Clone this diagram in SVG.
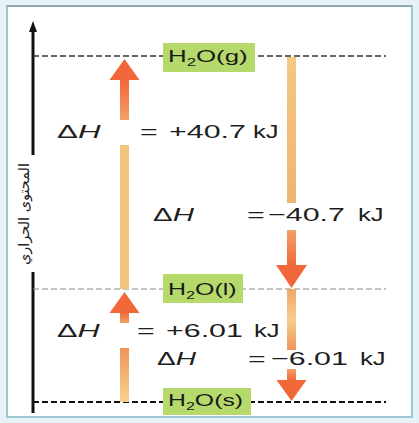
<svg xmlns="http://www.w3.org/2000/svg" width="419" height="423" viewBox="0 0 419 423">
  <style>
    .lbl{font-family:"Liberation Sans","DejaVu Sans",sans-serif;font-size:19px;fill:#1e1e1e}
    .sp{font-family:"Liberation Sans","DejaVu Sans",sans-serif;font-size:17px;fill:#1a1a1a}
    .box{fill:#b6d96c}
    .head{fill:#f2673a}
    .light{fill:#f2c57c}
  </style>
  <defs>
    <linearGradient id="gUp" x1="0" y1="1" x2="0" y2="0">
      <stop offset="0" stop-color="#f6d28e"/>
      <stop offset="1" stop-color="#f09458"/>
    </linearGradient>
    <linearGradient id="gShaftUp" x1="0" y1="0" x2="0" y2="1">
      <stop offset="0" stop-color="#f2673a"/>
      <stop offset="1" stop-color="#f3a064"/>
    </linearGradient>
    <linearGradient id="gShaftDown" x1="0" y1="1" x2="0" y2="0">
      <stop offset="0" stop-color="#f2673a"/>
      <stop offset="1" stop-color="#f3a064"/>
    </linearGradient>
    <linearGradient id="gDownLong" x1="0" y1="0" x2="0" y2="1">
      <stop offset="0" stop-color="#f3c880"/>
      <stop offset="1" stop-color="#f0b470"/>
    </linearGradient>
    <linearGradient id="gDownShort" x1="0" y1="0" x2="0" y2="1">
      <stop offset="0" stop-color="#f0a468"/>
      <stop offset="0.5" stop-color="#f5cf8c"/>
      <stop offset="1" stop-color="#f09458"/>
    </linearGradient>
  </defs>

  <!-- frame -->
  <rect x="0" y="0" width="419" height="423" fill="#e6f2f6"/>
  <rect x="7" y="6" width="405" height="411" fill="#ffffff" stroke="#9fc6d4" stroke-width="2"/>
  <line x1="7" y1="6" x2="412" y2="6" stroke="#8fa9b2" stroke-width="2"/>

  <!-- axis -->
  <g id="axis">
    <line x1="33" y1="28" x2="33" y2="155" stroke="#111" stroke-width="3"/>
    <line x1="33" y1="272" x2="33" y2="413" stroke="#111" stroke-width="3"/>
    <polygon points="33,21 29,32 37,32" fill="#111"/>
    <text transform="translate(29,214) rotate(-90)" text-anchor="middle" font-family="'DejaVu Sans',sans-serif" font-size="14" fill="#222" textLength="102" lengthAdjust="spacingAndGlyphs">المحتوى الحراري</text>
  </g>

  <!-- level lines -->
  <g id="levels">
    <line x1="33" y1="56" x2="386" y2="56" stroke="#333" stroke-width="1.5" stroke-dasharray="6,3"/>
    <line x1="33" y1="289" x2="386" y2="289" stroke="#888" stroke-width="1" stroke-dasharray="6,3"/>
    <line x1="33" y1="402" x2="386" y2="402" stroke="#111" stroke-width="2" stroke-dasharray="6,3"/>
  </g>

  <!-- connectors (arrows) -->
  <g id="connectors">
    <!-- s -> l (up, left) -->
    <rect x="120" y="348" width="9" height="54" fill="url(#gUp)"/>
    <rect x="120" y="312" width="9" height="11" fill="url(#gShaftUp)"/>
    <polygon class="head" points="124.5,292 109.5,313 139.5,313"/>
    <!-- l -> g (up, left) -->
    <rect class="light" x="120" y="145" width="9" height="144"/>
    <rect x="120" y="79" width="9" height="41" fill="url(#gShaftUp)"/>
    <polygon class="head" points="124.5,59 109.5,80 139.5,80"/>
    <!-- g -> l (down, right) -->
    <rect x="287" y="57" width="9" height="146" fill="url(#gDownLong)"/>
    <rect x="287" y="230" width="9" height="36" fill="url(#gShaftDown)"/>
    <polygon class="head" points="291.5,288 276,265 307,265"/>
    <!-- l -> s (down, right) -->
    <rect x="287" y="289" width="9" height="61" fill="url(#gDownShort)"/>
    <rect x="287" y="369" width="9" height="12" fill="url(#gShaftDown)"/>
    <polygon class="head" points="291.5,401 276.5,380 306.5,380"/>
  </g>

  <!-- state nodes -->
  <g id="node-gas">
    <rect class="box" x="163" y="43" width="92" height="29"/>
    <text class="sp" transform="translate(168,62) scale(1.52,1)">H<tspan font-size="11" dy="4">2</tspan><tspan dy="-4">O(g)</tspan></text>
  </g>
  <g id="node-liquid">
    <rect class="box" x="163" y="274" width="80" height="29"/>
    <text class="sp" transform="translate(168,295) scale(1.47,1)">H<tspan font-size="11" dy="4">2</tspan><tspan dy="-4">O(l)</tspan></text>
  </g>
  <g id="node-solid">
    <rect class="box" x="163" y="388" width="88" height="27"/>
    <text class="sp" transform="translate(168,406) scale(1.46,1)">H<tspan font-size="11" dy="4">2</tspan><tspan dy="-4">O(s)</tspan></text>
  </g>

  <!-- enthalpy labels -->
  <g id="label-vap">
    <text class="lbl" transform="translate(57,138) scale(1.65,1)">Δ<tspan font-style="italic">H</tspan></text>
    <text class="lbl" transform="translate(140,138) scale(1.6,1)">=</text>
    <text class="lbl" transform="translate(169,138) scale(1.6,1)">+40.7</text>
    <text class="lbl" transform="translate(253,138) scale(1.35,1)">kJ</text>
  </g>
  <g id="label-cond">
    <text class="lbl" transform="translate(153,221) scale(1.55,1)">Δ<tspan font-style="italic">H</tspan></text>
    <text class="lbl" transform="translate(247,221) scale(1.6,1)">=</text>
    <text class="lbl" transform="translate(268,221) scale(1.6,1)">−40.7</text>
    <text class="lbl" transform="translate(358,221) scale(1.35,1)">kJ</text>
  </g>
  <g id="label-fus">
    <text class="lbl" transform="translate(57,337) scale(1.62,1)">Δ<tspan font-style="italic">H</tspan></text>
    <text class="lbl" transform="translate(137,337) scale(1.6,1)">=</text>
    <text class="lbl" transform="translate(166,337) scale(1.6,1)">+6.01</text>
    <text class="lbl" transform="translate(254,337) scale(1.35,1)">kJ</text>
  </g>
  <g id="label-freeze">
    <text class="lbl" transform="translate(157,365) scale(1.48,1)">Δ<tspan font-style="italic">H</tspan></text>
    <text class="lbl" transform="translate(248,365) scale(1.6,1)">=</text>
    <text class="lbl" transform="translate(271,365) scale(1.6,1)">−6.01</text>
    <text class="lbl" transform="translate(360,365) scale(1.35,1)">kJ</text>
  </g>
</svg>
